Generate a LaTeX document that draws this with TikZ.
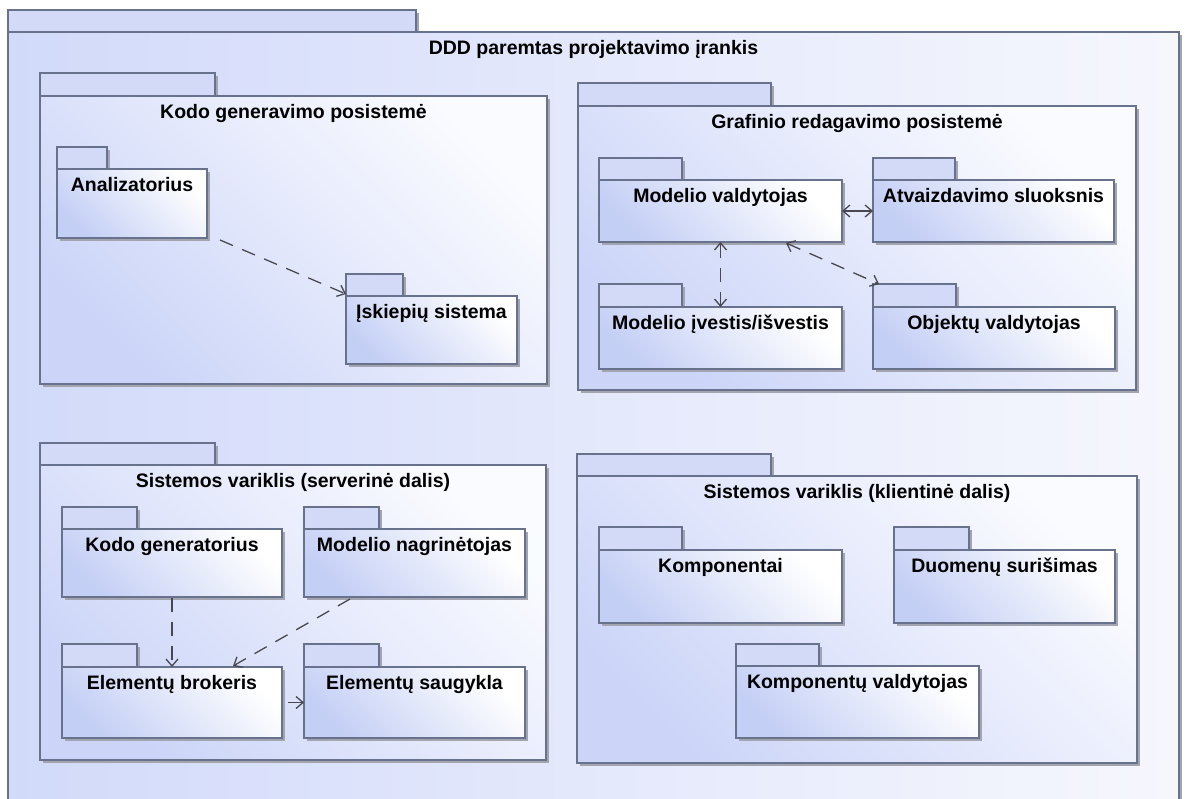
\documentclass[tikz,border=0pt]{standalone}
\usepackage{fontspec}
\setmainfont{Liberation Sans}
\usetikzlibrary{arrows.meta,calc,fit}
\definecolor{bordc}{RGB}{104,114,140}
\definecolor{shadc}{RGB}{162,165,175}
\definecolor{tabc}{RGB}{210,218,248}
\definecolor{outerl}{RGB}{210,218,250}
\definecolor{outerr}{RGB}{246,247,253}
\definecolor{midbl}{RGB}{204,213,248}
\definecolor{midtr}{RGB}{250,251,255}
\definecolor{innbl}{RGB}{196,207,245}
\definecolor{arrc}{RGB}{72,72,78}
\newcommand\umlpkg[9]{%
 \fill[shadc] (#2+3,#3+3) rectangle (#4+3,#5+3);
 \fill[shadc] (#2+3,#5+3) rectangle (#6+3,#7+3);
 \draw[tabbox] (#2,#3) rectangle (#4,#5);
 \path[#8] (#2,#5) rectangle (#6,#7);
 \node[fit={(#2,#5) (#6,#7)}, inner sep=0pt, outer sep=0pt] (#1) {};
 \node[lbl, anchor=base] at ({(#2+#6)/2},#5+22.5) {#9};
}
\tikzset{
 tabbox/.style={draw=bordc, line width=1.2pt, fill=tabc},
 outerbody/.style={draw=bordc, line width=1.2pt, left color=outerl, right color=outerr},
 midbody/.style={draw=bordc, line width=1.2pt, top color=midtr, bottom color=midbl, shading angle=-45},
 innerbody/.style={draw=bordc, line width=1.2pt, top color=white, bottom color=innbl, shading angle=-45},
 lbl/.style={font=\fontsize{19.5}{22}\selectfont\bfseries, inner sep=0pt, text=black},
 depend/.style={draw=arrc, line width=1.3pt, dash pattern=on 14pt off 10pt},
}
\begin{document}
\begin{tikzpicture}[x=1pt, y=-1pt, >={Straight Barb[length=7pt,width=12pt]}]
\useasboundingbox (0,0) rectangle (1185,799);
\clip (0,0) rectangle (1185,799);
\fill[white] (0,0) rectangle (1185,799);

\umlpkg{ddd}{8}{10}{416}{32}{1179}{815}{outerbody}{DDD paremtas projektavimo įrankis}

\umlpkg{kgp}{40}{73}{215}{96}{547}{384}{midbody}{Kodo generavimo posistemė}
\umlpkg{an}{57}{147}{107}{169}{207}{238}{innerbody}{Analizatorius}
\umlpkg{isk}{346}{274}{403}{296}{517}{364}{innerbody}{Įskiepių sistema}

\umlpkg{grp}{578}{83}{771}{106}{1136}{390}{midbody}{Grafinio redagavimo posistemė}
\umlpkg{mv}{599}{158}{682}{180}{842}{242}{innerbody}{Modelio valdytojas}
\umlpkg{as}{873}{158}{955}{180}{1114}{242}{innerbody}{Atvaizdavimo sluoksnis}
\umlpkg{mio}{599}{284}{682}{307}{842}{369}{innerbody}{Modelio įvestis/išvestis}
\umlpkg{ov}{873}{284}{956}{307}{1115}{369}{innerbody}{Objektų valdytojas}

\umlpkg{svs}{40}{443}{215}{465}{546}{760}{midbody}{Sistemos variklis (serverinė dalis)}
\umlpkg{kg}{62}{507}{137}{529}{282}{597}{innerbody}{Kodo generatorius}
\umlpkg{mn}{304}{507}{379}{529}{525}{597}{innerbody}{Modelio nagrinėtojas}
\umlpkg{eb}{62}{644}{137}{667}{282}{738}{innerbody}{Elementų brokeris}
\umlpkg{es}{304}{644}{379}{667}{525}{738}{innerbody}{Elementų saugykla}

\umlpkg{svk}{577}{454}{771}{476}{1137}{763}{midbody}{Sistemos variklis (klientinė dalis)}
\umlpkg{ko}{599}{527}{682}{550}{842}{623}{innerbody}{Komponentai}
\umlpkg{ds}{894}{527}{969}{550}{1115}{623}{innerbody}{Duomenų surišimas}
\umlpkg{kv}{736}{644}{819}{666}{979}{738}{innerbody}{Komponentų valdytojas}

% connectors
\draw[depend, ->] ($(an.south east)+(13,2)$) -- ($(isk.north west)+(0,-2)$);
\draw[depend, solid, <->] (mv.east) -- (as.west);
\draw[depend, <->] (mv.south) -- (mio.north);
\draw[depend, <->] ($(mv.south west)+(187,1)$) -- ($(ov.north west)+(6,-23)$);
\draw[depend, ->] ($(kg.south)+(0,1)$) -- (eb.north);
\draw[depend, ->] ($(mn.south west)+(46,2)$) -- ($(eb.north)+(61,-1)$);
\draw[depend, solid, ->] ($(eb.east)+(6,0)$) -- (es.west);
\end{tikzpicture}
\end{document}
